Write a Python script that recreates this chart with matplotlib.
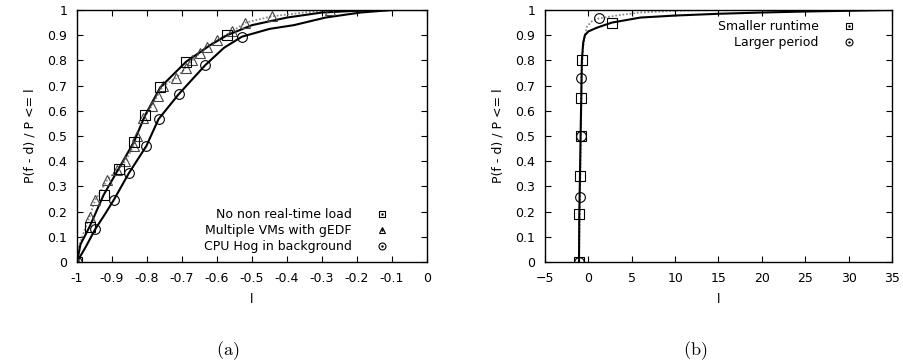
import matplotlib
matplotlib.use('Agg')
import matplotlib.pyplot as plt
from matplotlib.lines import Line2D

plt.rcParams['font.family'] = 'DejaVu Sans'
plt.rcParams['font.size'] = 9
plt.rcParams['mathtext.fontset'] = 'cm'

# (a) CDF curves
noload_x = [-1, -0.99, -0.964, -0.924, -0.881, -0.838, -0.805, -0.762, -0.688, -0.62, -0.571, -0.5, -0.4, -0.3, -0.2, -0.1]
noload_y = [0, 0.07, 0.14, 0.266, 0.37, 0.475, 0.583, 0.693, 0.795, 0.86, 0.90, 0.94, 0.97, 0.99, 0.997, 1.0]
noload_mx = [-1, -0.964, -0.924, -0.881, -0.838, -0.805, -0.762, -0.688, -0.571]
noload_my = [0, 0.14, 0.266, 0.37, 0.475, 0.583, 0.693, 0.795, 0.90]

gedf_x = [-1, -0.995, -0.98, -0.964, -0.948, -0.914, -0.886, -0.862, -0.838, -0.83, -0.81, -0.786, -0.77,
          -0.754, -0.716, -0.69, -0.671, -0.648, -0.629, -0.6, -0.557, -0.519, -0.443, -0.35, -0.276, -0.2, -0.1]
gedf_y = [0, 0.06, 0.12, 0.18, 0.246, 0.325, 0.365, 0.40, 0.46, 0.5, 0.57, 0.62, 0.66,
          0.70, 0.73, 0.77, 0.80, 0.83, 0.855, 0.88, 0.915, 0.95, 0.975, 0.99, 1.0, 1.0, 1.0]
gedf_mx = [-1, -0.964, -0.948, -0.914, -0.886, -0.862, -0.838, -0.83, -0.81, -0.786, -0.77, -0.754,
           -0.716, -0.69, -0.671, -0.648, -0.629, -0.6, -0.557, -0.519, -0.443, -0.276]
gedf_my = [0, 0.18, 0.246, 0.325, 0.365, 0.40, 0.46, 0.5, 0.57, 0.62, 0.66, 0.70,
           0.73, 0.77, 0.80, 0.83, 0.855, 0.88, 0.915, 0.95, 0.975, 1.0]

hog_x = [-1, -0.975, -0.948, -0.92, -0.895, -0.852, -0.802, -0.767, -0.71, -0.633, -0.58, -0.529, -0.45, -0.38, -0.29, -0.19, -0.1, 0]
hog_y = [0, 0.06, 0.13, 0.19, 0.246, 0.352, 0.46, 0.567, 0.665, 0.782, 0.85, 0.894, 0.925, 0.94, 0.97, 0.99, 1.0, 1.0]
hog_mx = [-1, -0.948, -0.895, -0.852, -0.802, -0.767, -0.71, -0.633, -0.529]
hog_my = [0, 0.13, 0.246, 0.352, 0.46, 0.567, 0.665, 0.782, 0.894]

# (b) CDF curves
runtime_x = [-1.08, -1.05, -0.97, -0.9, -0.82, -0.75, -0.6, -0.4, 0.0, 1.0, 2.7, 6.0, 10, 15, 20, 25, 30, 35]
runtime_y = [0, 0.19, 0.34, 0.5, 0.65, 0.8, 0.87, 0.9, 0.915, 0.93, 0.95, 0.97, 0.978, 0.985, 0.99, 0.994, 0.997, 1.0]
runtime_mx = [-1.08, -1.05, -0.97, -0.9, -0.82, -0.75, 2.7]
runtime_my = [0, 0.19, 0.34, 0.5, 0.65, 0.8, 0.95]

period_x = [-1.08, -0.96, -0.85, -0.8, -0.6, -0.4, -0.15, 0.4, 1.27, 3.6, 6, 10, 15]
period_y = [0, 0.257, 0.5, 0.731, 0.85, 0.9, 0.935, 0.955, 0.967, 0.98, 0.99, 0.997, 1.0]
period_mx = [-1.08, -0.96, -0.85, -0.8, 1.27]
period_my = [0, 0.257, 0.5, 0.731, 0.967]

yticks = [i / 10 for i in range(11)]
ytick_labels = ['0', '0.1', '0.2', '0.3', '0.4', '0.5', '0.6', '0.7', '0.8', '0.9', '1']
xticks_a = [-1 + i / 10 for i in range(11)]
xtick_labels_a = ['-1', '-0.9', '-0.8', '-0.7', '-0.6', '-0.5', '-0.4', '-0.3', '-0.2', '-0.1', '0']
xticks_b = [-5, 0, 5, 10, 15, 20, 25, 30, 35]

W, H = 904, 364
fig = plt.figure(figsize=(W / 100, H / 100), dpi=100)

def px_axes(left, top, right, bottom):
    return fig.add_axes([left / W, 1 - bottom / H, (right - left) / W, (bottom - top) / H])

def style(ax):
    ax.tick_params(direction='in', top=True, right=True, length=4, width=0.8, pad=7)
    for s in ax.spines.values():
        s.set_linewidth(1.0)
    ax.set_ylim(0, 1)
    ax.set_yticks(yticks)
    ax.set_yticklabels(ytick_labels)
    ax.set_ylabel('P(f - d) / P <= l', labelpad=8)
    ax.set_xlabel('l', labelpad=6)

ms = dict(markersize=7, markerfacecolor='none', linestyle='none', markeredgewidth=0.8)
grey = '#8c8c8c'

def leg_handle(marker, color):
    return (Line2D([], [], marker=marker, color=color, markersize=5, markerfacecolor='none',
                   linestyle='none', markeredgewidth=0.8),
            Line2D([], [], marker='.', color=color, markersize=1.5, linestyle='none'))

# ---- (a)
ax1 = px_axes(77, 10, 427, 262)
ax1.plot(gedf_x, gedf_y, color=grey, linestyle=(0, (1, 1)), linewidth=1.3)
ax1.plot(noload_x, noload_y, color='black', linewidth=1.5)
ax1.plot(hog_x, hog_y, color='black', linewidth=1.5)
ax1.plot(gedf_mx, gedf_my, marker='^', color='#444444', **ms)
ax1.plot(noload_mx, noload_my, marker='s', color='black', **ms)
ax1.plot(hog_mx, hog_my, marker='o', color='black', **ms)
ax1.set_xlim(-1, 0)
ax1.set_xticks(xticks_a)
ax1.set_xticklabels(xtick_labels_a)
style(ax1)
ax1.legend([leg_handle('s', 'black'), leg_handle('^', 'black'), leg_handle('o', 'black')],
           ['No non real-time load', 'Multiple VMs with gEDF', 'CPU Hog in background'],
           markerfirst=False, frameon=False, loc='lower right', bbox_to_anchor=(0.906, 0.01),
           borderpad=0, handlelength=1.0, handletextpad=1.9, labelspacing=0.25)

# ---- (b)
ax2 = px_axes(545, 10, 892, 262)
ax2.plot(period_x, period_y, color=grey, linestyle=(0, (1, 1)), linewidth=1.3)
ax2.plot(runtime_x, runtime_y, color='black', linewidth=1.5)
ax2.plot(runtime_mx, runtime_my, marker='s', color='black', **ms)
ax2.plot(period_mx, period_my, marker='o', color='black', **ms)
ax2.set_xlim(-5, 35)
ax2.set_xticks(xticks_b)
style(ax2)
ax2.legend([leg_handle('s', 'black'), leg_handle('o', 'black')],
           ['Smaller runtime', 'Larger period'],
           markerfirst=False, frameon=False, loc='upper right', bbox_to_anchor=(0.911, 0.985),
           borderpad=0, handlelength=1.0, handletextpad=1.9, labelspacing=0.25)

fig.text(228 / W, 1 - 351 / H, r'$\mathrm{(a)}$', fontsize=13, ha='center', va='center')
fig.text(695 / W, 1 - 351 / H, r'$\mathrm{(b)}$', fontsize=13, ha='center', va='center')

fig.savefig('out.png', dpi=100)
